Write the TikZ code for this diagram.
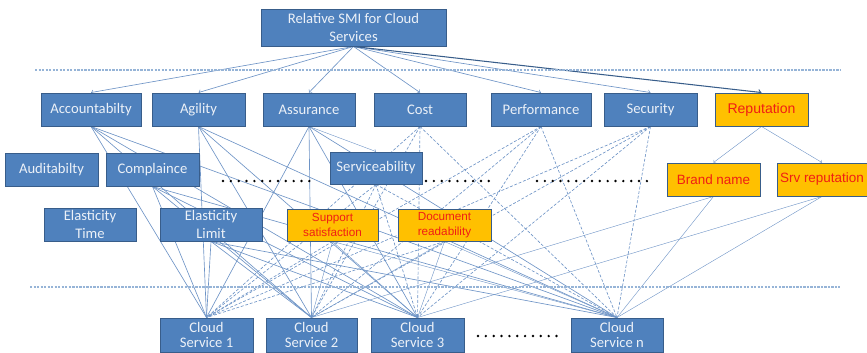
\documentclass[tikz,border=0pt]{standalone}
\usepackage{fontspec}
\setmainfont{Carlito}
\newfontfamily\arialfont{Liberation Sans}
\usetikzlibrary{backgrounds}

\definecolor{smiblue}{RGB}{79,129,189}
\definecolor{smiedge}{RGB}{56,93,138}
\definecolor{smitext}{RGB}{236,241,248}
\definecolor{smigold}{RGB}{255,192,0}
\definecolor{smired}{RGB}{240,30,20}
\definecolor{smilink}{RGB}{110,148,198}
\definecolor{smisep}{RGB}{150,180,215}

\tikzset{
  attr/.style={draw=smiedge, fill=smiblue, text=smitext, line width=0.8pt,
    minimum height=0.99cm, inner sep=1pt, align=center,
    font=\fontsize{12.5}{15}\selectfont},
  subattr/.style={attr, fill=smigold, text=smired,
    font=\arialfont\fontsize{11.5}{13}\selectfont},
  service/.style={attr, minimum height=1.02cm, font=\fontsize{12.5}{13.5}\selectfont},
  link/.style={smilink, line width=0.55pt},
  dlink/.style={link, dash pattern=on 2.5pt off 1.5pt},
  thinlink/.style={smilink, line width=0.35pt},
  toparrow/.style={link, ->},
  sepline/.style={smisep, line width=0.9pt, dash pattern=on 2pt off 1pt},
  dotrow/.style={black, line width=2.3pt, dash pattern=on 0pt off 6.7pt, line cap=round},
}

\begin{document}
\begin{tikzpicture}[x=0.03cm,y=-0.03cm]
\useasboundingbox (0,0) rectangle (867,352);

% goal
\node[attr, minimum width=5.55cm, minimum height=1.11cm] (smi) at (353.5,27.5) {Relative SMI for Cloud\\Services};

% top level attributes
\node[attr, minimum width=3cm] (acc) at (91,109.5) {Accountabilty};
\node[attr, minimum width=2.79cm] (agi) at (198.5,109.5) {Agility};
\node[attr, minimum width=2.76cm] (asu) at (309,109.5) {Assurance};
\node[attr, minimum width=2.76cm] (cost) at (420,109.5) {Cost};
\node[attr, minimum width=3cm] (perf) at (541,109.5) {Performance};
\node[attr, minimum width=2.79cm] (sec) at (650.5,109.5) {Security};
\node[subattr, minimum width=2.79cm, font=\arialfont\fontsize{12}{14}\selectfont] (rep) at (761.5,109.5) {Reputation};

% second level
\node[attr, minimum width=2.79cm] (aud) at (51.5,169.5) {Auditabilty};
\node[attr, minimum width=2.79cm] (com) at (152.5,169.5) {Complaince};
\node[attr, minimum width=2.76cm, minimum height=0.96cm] (serv) at (376,168) {Serviceability};
\node[subattr, minimum width=2.79cm] (brand) at (713.5,179.5) {Brand name};
\node[subattr, minimum width=2.7cm] (srv) at (822,179.5) {Srv reputation};

% third level
\node[attr, minimum width=2.76cm] (etime) at (90,224.5) {Elasticity\\Time};
\node[attr, minimum width=3.06cm] (elim) at (211,224.5) {Elasticity\\Limit};
\node[subattr, minimum width=2.73cm, minimum height=0.96cm, font=\arialfont\fontsize{10}{12.5}\selectfont] (supp) at (332.5,225) {Support\\satisfaction};
\node[subattr, minimum width=2.79cm, minimum height=0.96cm, font=\arialfont\fontsize{10}{12.5}\selectfont] (docr) at (444.5,225) {Document\\readability};

% cloud services
\node[service, minimum width=2.79cm] (cs1) at (206.5,335) {Cloud\\Service 1};
\node[service, minimum width=2.73cm] (cs2) at (311.5,335) {Cloud\\Service 2};
\node[service, minimum width=2.79cm] (cs3) at (417.5,335) {Cloud\\Service 3};
\node[service, minimum width=2.76cm] (csn) at (617,335) {Cloud\\Service n};

% separators and dots
\draw[sepline] (35,70) -- (840,70);
\draw[sepline] (30,287) -- (840,287);
\draw[dotrow] (223,181) -- (310,181);
\draw[dotrow] (426,181) -- (492,181);
\draw[dotrow] (537,181) -- (650,181);
\draw[dotrow] (478,336) -- (560,336);

\begin{scope}[on background layer]
  \foreach \t in {acc,agi,asu,cost,perf,sec}
    \draw[toparrow] (smi.south) -- (\t.north);
  \draw[toparrow, smiedge, line width=0.9pt] (smi.south) -- (rep.north);
  \draw[toparrow, thinlink] (rep.south) -- (brand.north);
  \draw[toparrow, thinlink] (rep.south) -- (srv.north);
  \draw[toparrow, thinlink] (asu.south) -- (serv.north);
  % measured attributes
  \foreach \s in {acc,agi,asu,com,elim}
    \foreach \c in {cs1,cs2,cs3,csn}
      \draw[link] (\s.south) -- (\c.north);
  \foreach \s in {cost,perf,sec,serv}
    \foreach \c in {cs1,cs2,cs3,csn}
      \draw[dlink] (\s.south) -- (\c.north);
  \foreach \s in {supp,docr} {
    \draw[dlink] (\s.south) -- (cs1.north);
    \foreach \c in {cs2,cs3,csn}
      \draw[thinlink] (\s.south) -- (\c.north);
  }
  \draw[thinlink] (brand.south) -- (cs2.north);
  \draw[thinlink] (brand.south) -- (csn.north);
  \draw[thinlink] (srv.south) -- (cs3.north);
  \draw[thinlink] (srv.south) -- (csn.north);
\end{scope}
\end{tikzpicture}
\end{document}
